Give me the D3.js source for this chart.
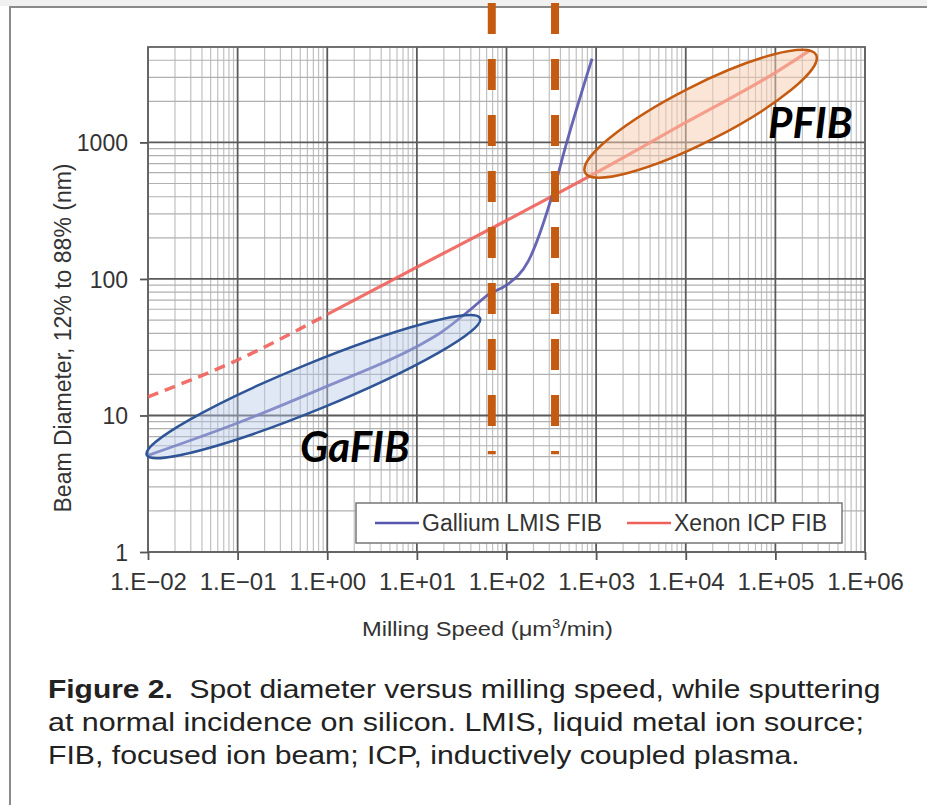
<!DOCTYPE html>
<html lang="en">
<head>
    <meta charset="UTF-8">
    <title>Spot diameter versus milling speed</title>
    <script src="https://d3js.org/d3.v7.min.js"></script>
    <style>
        body {
            margin: 0;
            background: #fff;
            font-family: "Liberation Sans", Arial, sans-serif;
        }
        .tick text {
            fill: #333;
        }
    </style>
</head>
<body>
    <svg id="chart" width="927" height="805"></svg>

    <script>
        const width = 927, height = 805;

        // axis ranges (µm³/min and nm)
        const xDomain = [1e-2, 1e6];
        const yDomain = [1, 5000];
        const xMajor = [1e-2, 1e-1, 1e0, 1e1, 1e2, 1e3, 1e4, 1e5, 1e6];
        const yMajor = [1, 10, 100, 1000];

        // Gallium LMIS FIB
        const galliumSpeed = [0.01, 0.1, 1, 10, 18, 40, 65, 100, 175, 320, 470, 900];
        const galliumDiam = [5.1, 8.8, 16.4, 32, 40, 60, 78, 90, 135, 400, 1000, 4100];

        // Xenon ICP FIB, dashed (extrapolated) part then solid part
        const xenonDashSpeed = [0.01, 0.1, 1];
        const xenonDashDiam = [13.7, 25.5, 55];
        const xenonSpeed = [1, 10, 100, 1000, 1e4, 1e5, 2.45e5];
        const xenonDiam = [55, 122, 268, 600, 1400, 3250, 4750];

        // annotations (data coordinates)
        const ellipseNames = ["GaFIB", "PFIB"];
        const ellipseFrom = [[0.00967, 5.14], [753, 601]];
        const ellipseTo = [[50.7, 51.5], [2.85e5, 4375]];
        const labelAt = [[0.497, 4.58], [8.3e4, 1080]];
        const markerSpeeds = [68.5, 348];
        const markerDiam = [5.2, 10500];

        const legendNames = ["Gallium LMIS FIB", "Xenon ICP FIB"];
        const captionLines = [
            ["Figure 2.", "  Spot diameter versus milling speed, while sputtering"],
            ["", "at normal incidence on silicon. LMIS, liquid metal ion source;"],
            ["", "FIB, focused ion beam; ICP, inductively coupled plasma."]
        ];

        const svg = d3.select("#chart");
        const x = d3.scaleLog().domain(xDomain).range([148, 865]);
        const y = d3.scaleLog().domain(yDomain).range([552, 47]);

        // frame round the whole figure
        svg.append("rect").attr("x", 0).attr("y", 0).attr("width", width).attr("height", 6).attr("fill", "#f1f1f1");
        svg.append("path")
            .attr("d", `M10,${height} L10,7 L${width},7`)
            .attr("fill", "none").attr("stroke", "#8a8a8a").attr("stroke-width", 2);

        const isMajor = v => Math.abs(Math.log10(v) - Math.round(Math.log10(v))) < 1e-9;
        const xMinor = x.ticks().filter(v => !isMajor(v));
        const yMinor = y.ticks().filter(v => !isMajor(v));

        const grid = svg.append("g");
        grid.selectAll(".vminor").data(xMinor).enter().append("line")
            .attr("x1", d => x(d)).attr("x2", d => x(d))
            .attr("y1", y(yDomain[1])).attr("y2", y(yDomain[0]))
            .attr("stroke", "#c0c0c0").attr("stroke-width", 1.2);
        grid.selectAll(".hminor").data(yMinor).enter().append("line")
            .attr("y1", d => y(d)).attr("y2", d => y(d))
            .attr("x1", x(xDomain[0])).attr("x2", x(xDomain[1]))
            .attr("stroke", "#b0b0b0").attr("stroke-width", 1.2);
        grid.selectAll(".vmajor").data(xMajor).enter().append("line")
            .attr("x1", d => x(d)).attr("x2", d => x(d))
            .attr("y1", y(yDomain[1])).attr("y2", y(yDomain[0]))
            .attr("stroke", "#5a5a5a").attr("stroke-width", 1.8);
        grid.selectAll(".hmajor").data(yMajor).enter().append("line")
            .attr("y1", d => y(d)).attr("y2", d => y(d))
            .attr("x1", x(xDomain[0])).attr("x2", x(xDomain[1]))
            .attr("stroke", "#5a5a5a").attr("stroke-width", 1.8);
        grid.append("rect")
            .attr("x", x(xDomain[0])).attr("y", y(yDomain[1]))
            .attr("width", x(xDomain[1]) - x(xDomain[0]))
            .attr("height", y(yDomain[0]) - y(yDomain[1]))
            .attr("fill", "none").attr("stroke", "#666").attr("stroke-width", 1.8);

        // axes (labels and outer ticks)
        const expFmt = d => {
            const e = Math.round(Math.log10(d));
            return "1.E" + (e < 0 ? "\u2212" : "+") + String(Math.abs(e)).padStart(2, "0");
        };
        const xAxis = svg.append("g")
            .attr("transform", `translate(0,${y(yDomain[0])})`)
            .call(d3.axisBottom(x).tickValues(xMajor).tickFormat(expFmt).tickSize(8).tickPadding(13));
        xAxis.selectAll("text").attr("font-size", 24).attr("font-family", "Liberation Sans, Arial");
        const yAxis = svg.append("g")
            .attr("transform", `translate(${x(xDomain[0])},0)`)
            .call(d3.axisLeft(y).tickValues(yMajor).tickFormat(d3.format("d")).tickSize(8).tickPadding(12));
        yAxis.selectAll("text").attr("font-size", 23).attr("font-family", "Liberation Sans, Arial").attr("dy", "0.36em");
        svg.selectAll(".domain").remove();
        svg.selectAll(".tick line").attr("stroke", "#555").attr("stroke-width", 1.8);

        // axis titles
        const xTitle = svg.append("text")
            .attr("x", 0).attr("y", 0)
            .attr("font-size", 21).attr("fill", "#333");
        xTitle.append("tspan").text("Milling Speed (\u03bcm");
        xTitle.append("tspan").attr("font-size", 13).attr("dy", -8).text("3");
        xTitle.append("tspan").attr("dy", 8).text("/min)");
        fitText(xTitle, 362, 636, 251);

        svg.append("text")
            .attr("transform", `translate(71,338) rotate(-90)`)
            .attr("text-anchor", "middle")
            .attr("font-size", 23).attr("fill", "#333")
            .text("Beam Diameter, 12% to 88% (nm)");

        // legend
        const legend = svg.append("g");
        legend.append("rect")
            .attr("x", 356).attr("y", 503).attr("width", 486).attr("height", 40)
            .attr("fill", "#fff").attr("stroke", "#777").attr("stroke-width", 1.5);
        const legendColors = ["#5656ad", "#ef6059"];
        const legendX = [375, 627];
        legendNames.forEach((name, i) => {
            legend.append("line")
                .attr("x1", legendX[i]).attr("x2", legendX[i] + 44)
                .attr("y1", 523).attr("y2", 523)
                .attr("stroke", legendColors[i]).attr("stroke-width", 2.5);
            legend.append("text")
                .attr("x", legendX[i] + 47).attr("y", 531)
                .attr("font-size", 23).attr("fill", "#333")
                .text(name);
        });

        // curves
        const line = d3.line().x(d => x(d[0])).y(d => y(d[1])).curve(d3.curveMonotoneX);
        svg.append("path")
            .datum(d3.zip(xenonDashSpeed, xenonDashDiam))
            .attr("d", line)
            .attr("fill", "none").attr("stroke", legendColors[1]).attr("stroke-width", 3.5)
            .attr("stroke-dasharray", "11 7").attr("opacity", 0.9);
        svg.append("path")
            .datum(d3.zip(xenonSpeed, xenonDiam))
            .attr("d", line)
            .attr("fill", "none").attr("stroke", legendColors[1]).attr("stroke-width", 3.2)
            .attr("opacity", 0.9);
        svg.append("path")
            .datum(d3.zip(galliumSpeed, galliumDiam))
            .attr("d", line)
            .attr("fill", "none").attr("stroke", legendColors[0]).attr("stroke-width", 2.8)
            .attr("opacity", 0.9);

        // highlight ellipses
        const ellipseStroke = ["#2f5597", "#c55a11"];
        const ellipseFill = ["rgba(180,199,231,0.42)", "rgba(248,203,173,0.5)"];
        const ellipseHalfWidth = [23, 28];
        ellipseNames.forEach((name, i) => {
            const x0 = x(ellipseFrom[i][0]), y0 = y(ellipseFrom[i][1]);
            const x1 = x(ellipseTo[i][0]), y1 = y(ellipseTo[i][1]);
            const angle = Math.atan2(y1 - y0, x1 - x0) * 180 / Math.PI;
            svg.append("ellipse")
                .attr("transform", `translate(${(x0 + x1) / 2},${(y0 + y1) / 2}) rotate(${angle})`)
                .attr("rx", Math.hypot(x1 - x0, y1 - y0) / 2)
                .attr("ry", ellipseHalfWidth[i])
                .attr("fill", ellipseFill[i])
                .attr("stroke", ellipseStroke[i]).attr("stroke-width", 2.5);
            svg.append("text")
                .attr("x", x(labelAt[i][0])).attr("y", y(labelAt[i][1]))
                .attr("font-family", "Lato, sans-serif")
                .attr("font-weight", "bold").attr("font-style", "italic")
                .attr("font-size", 42).attr("fill", "#000")
                .text(name);
        });

        // vertical orange markers
        svg.selectAll(".marker").data(markerSpeeds).enter().append("line")
            .attr("x1", d => x(d)).attr("x2", d => x(d))
            .attr("y1", y(markerDiam[1])).attr("y2", y(markerDiam[0]))
            .attr("stroke", "#c55a11").attr("stroke-width", 8)
            .attr("stroke-dasharray", "31 25");

        // caption
        const captionWidth = [833, 816, 752];
        captionLines.forEach((parts, i) => {
            const t = svg.append("text").attr("font-size", 25).attr("fill", "#222")
                .attr("xml:space", "preserve");
            if (parts[0]) t.append("tspan").attr("font-weight", "bold").text(parts[0]);
            t.append("tspan").text(parts[1]);
            fitText(t, 48, 698 + i * 33, captionWidth[i]);
        });

        function fitText(sel, x0, baseline, target) {
            const w = sel.node().getComputedTextLength();
            sel.attr("transform", `translate(${x0},${baseline}) scale(${target / w},1)`);
        }
    </script>
</body>
</html>
